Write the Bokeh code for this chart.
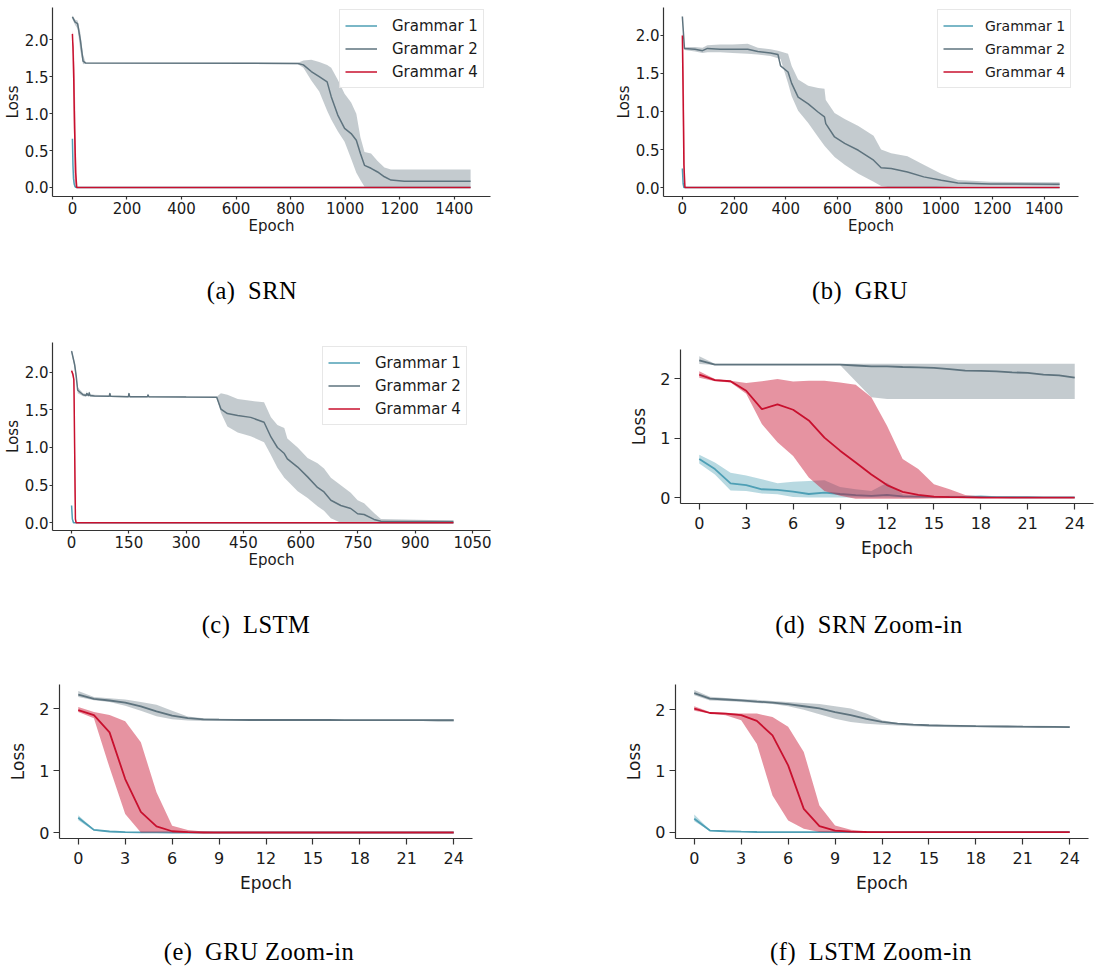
from bokeh.plotting import figure
from bokeh.layouts import column, row
from bokeh.models import (Range1d, FixedTicker, PrintfTickFormatter, Legend,
                          LegendItem, Div)
from bokeh.embed import file_html
from bokeh.resources import INLINE

C1, C2, C4 = "#4e9fb5", "#5e737e", "#c8102e"
LABELS = ["Grammar 1", "Grammar 2", "Grammar 4"]

# ---------------- (a) SRN ----------------
a_g1_epochs = [0, 2, 4, 7, 10, 15, 1460]
a_g1_mean = [0.66, 0.30, 0.12, 0.04, 0.01, 0.0, 0.0]
a_g1_upper = [0.70, 0.36, 0.16, 0.06, 0.02, 0.0, 0.0]
a_g1_lower = [0.58, 0.24, 0.08, 0.02, 0.0, 0.0, 0.0]

a_g2_epochs = [0, 10, 19, 29, 39, 49, 827, 847, 876, 905, 934, 949, 973, 998,
               1022, 1041, 1056, 1071, 1095, 1119, 1144, 1168, 1217, 1460]
a_g2_mean = [2.31, 2.24, 2.22, 2.00, 1.71, 1.685, 1.68, 1.66, 1.57, 1.50, 1.43, 1.23,
             0.98, 0.80, 0.73, 0.64, 0.46, 0.30, 0.26, 0.21, 0.145, 0.10, 0.085, 0.085]
a_g2_upper = [2.33, 2.27, 2.26, 2.10, 1.80, 1.69, 1.69, 1.72, 1.73, 1.70, 1.66, 1.62,
              1.46, 1.27, 1.15, 1.00, 0.68, 0.48, 0.46, 0.36, 0.27, 0.245, 0.245, 0.245]
a_g2_lower = [2.28, 2.20, 2.15, 1.85, 1.67, 1.68, 1.67, 1.62, 1.45, 1.30, 1.04, 0.92,
              0.76, 0.62, 0.39, 0.20, 0.10, 0.01, 0.005, 0.005, 0.005, 0.005, 0.005, 0.005]

a_g4_epochs = [0, 2, 5, 8, 12, 16, 1460]
a_g4_mean = [2.08, 1.90, 1.45, 0.80, 0.20, 0.0, 0.0]
a_g4_upper = [2.13, 1.98, 1.90, 1.60, 0.70, 0.0, 0.0]
a_g4_lower = [2.02, 1.80, 0.90, 0.10, 0.0, 0.0, 0.0]

# ---------------- (b) GRU ----------------
b_g1_epochs = [0, 3, 6, 1460]
b_g1_mean = [0.25, 0.05, 0.0, 0.0]
b_g1_upper = [0.27, 0.07, 0.0, 0.0]
b_g1_lower = [0.20, 0.03, 0.0, 0.0]

b_g2_epochs = [0, 8, 49, 78, 97, 146, 195, 253, 292, 341, 370, 380, 409, 423, 448,
               487, 526, 550, 555, 589, 628, 681, 740, 769, 808, 871, 934, 1002, 1066,
               1192, 1460]
b_g2_mean = [2.25, 1.83, 1.82, 1.80, 1.83, 1.82, 1.82, 1.82, 1.79, 1.77, 1.75, 1.60,
             1.52, 1.37, 1.19, 1.10, 0.99, 0.93, 0.84, 0.665, 0.58, 0.49, 0.36, 0.26,
             0.25, 0.205, 0.14, 0.096, 0.06, 0.048, 0.044]
b_g2_upper = [2.27, 1.85, 1.85, 1.84, 1.87, 1.88, 1.88, 1.89, 1.84, 1.82, 1.80, 1.79,
              1.76, 1.60, 1.42, 1.34, 1.31, 1.30, 1.15, 0.98, 0.90, 0.81, 0.68, 0.50,
              0.45, 0.41, 0.30, 0.18, 0.10, 0.075, 0.07]
b_g2_lower = [2.22, 1.81, 1.79, 1.77, 1.78, 1.78, 1.77, 1.76, 1.75, 1.73, 1.70, 1.69,
              1.37, 1.20, 1.01, 0.85, 0.66, 0.55, 0.53, 0.40, 0.30, 0.18, 0.075, 0.02,
              0.0, 0.0, 0.0, 0.01, 0.02, 0.025, 0.02]

b_g4_epochs = [0, 3, 6, 10, 1460]
b_g4_mean = [2.00, 1.20, 0.30, 0.0, 0.0]
b_g4_upper = [2.03, 1.90, 1.40, 0.0, 0.0]
b_g4_lower = [1.95, 0.50, 0.0, 0.0, 0.0]

# ---------------- (c) LSTM ----------------
c_g1_epochs = [0, 2, 5, 1000]
c_g1_mean = [0.23, 0.05, 0.0, 0.0]
c_g1_upper = [0.25, 0.07, 0.0, 0.0]
c_g1_lower = [0.20, 0.03, 0.0, 0.0]

c_g2_epochs = [0, 8, 12, 16, 30, 38, 40, 42, 45, 46, 48, 60, 99, 100, 102, 149, 150,
               152, 199, 200, 202, 300, 380, 391, 408, 435, 469, 504, 522, 539, 557,
               565, 592, 618, 644, 661, 679, 705, 731, 749, 766, 792, 810, 1000]
c_g2_mean = [2.28, 2.10, 1.95, 1.76, 1.70, 1.69, 1.72, 1.70, 1.69, 1.73, 1.69, 1.685,
             1.68, 1.72, 1.68, 1.675, 1.72, 1.675, 1.675, 1.70, 1.675, 1.67, 1.668,
             1.51, 1.45, 1.425, 1.40, 1.335, 1.14, 1.00, 0.92, 0.85, 0.74, 0.61, 0.47,
             0.41, 0.30, 0.23, 0.19, 0.12, 0.11, 0.045, 0.022, 0.018]
c_g2_upper = [2.30, 2.14, 2.00, 1.80, 1.72, 1.71, 1.75, 1.71, 1.71, 1.75, 1.71, 1.70,
              1.69, 1.74, 1.69, 1.685, 1.74, 1.685, 1.685, 1.72, 1.685, 1.68, 1.675,
              1.72, 1.70, 1.645, 1.62, 1.60, 1.40, 1.30, 1.26, 1.12, 1.00, 0.86, 0.79,
              0.72, 0.60, 0.50, 0.40, 0.30, 0.26, 0.13, 0.05, 0.03]
c_g2_lower = [2.25, 2.05, 1.90, 1.72, 1.68, 1.675, 1.69, 1.68, 1.675, 1.70, 1.675,
              1.675, 1.67, 1.70, 1.67, 1.665, 1.70, 1.665, 1.665, 1.68, 1.665, 1.66,
              1.66, 1.46, 1.28, 1.20, 1.15, 1.07, 0.90, 0.73, 0.60, 0.56, 0.42, 0.33,
              0.22, 0.16, 0.06, 0.0, 0.0, 0.0, 0.0, 0.0, 0.005, 0.005]

c_g4_epochs = [0, 3, 6, 8, 10, 12, 1000]
c_g4_mean = [2.02, 1.98, 1.90, 1.00, 0.05, 0.0, 0.0]
c_g4_upper = [2.04, 2.00, 1.95, 1.60, 0.30, 0.0, 0.0]
c_g4_lower = [1.99, 1.95, 1.80, 0.40, 0.0, 0.0, 0.0]

# ---------------- zoom-in panels (epochs 0..24) ----------------
zoom_epochs = [0, 1, 2, 3, 4, 5, 6, 7, 8, 9, 10, 11, 12, 13, 14, 15, 16, 17, 18, 19,
               20, 21, 22, 23, 24]

# (d) SRN zoom-in
d_g1_mean = [0.65, 0.48, 0.24, 0.21, 0.14, 0.13, 0.10, 0.06, 0.085, 0.06, 0.04, 0.03,
             0.045, 0.02, 0.015, 0.01, 0.01, 0.01, 0.012, 0.008, 0.005, 0.005, 0.004,
             0.003, 0.003]
d_g1_upper = [0.72, 0.59, 0.42, 0.37, 0.31, 0.24, 0.265, 0.28, 0.29, 0.18, 0.14, 0.11,
              0.25, 0.056, 0.03, 0.02, 0.03, 0.025, 0.045, 0.02, 0.012, 0.01, 0.008,
              0.006, 0.006]
d_g1_lower = [0.575, 0.39, 0.12, 0.11, 0.068, 0.056, 0.01, 0.0, 0.0, 0.0, 0.0, 0.0, 0.0,
              0.0, 0.0, 0.0, 0.0, 0.0, 0.0, 0.0, 0.0, 0.0, 0.0, 0.0, 0.0]
d_g2_mean = [2.31, 2.24, 2.24, 2.24, 2.24, 2.24, 2.24, 2.24, 2.24, 2.24, 2.225, 2.21,
             2.21, 2.20, 2.195, 2.185, 2.165, 2.14, 2.135, 2.125, 2.11, 2.10, 2.07,
             2.06, 2.02]
d_g2_upper = [2.38, 2.255, 2.255, 2.255, 2.255, 2.255, 2.255, 2.255, 2.255, 2.255,
              2.255, 2.255, 2.255, 2.255, 2.255, 2.255, 2.255, 2.255, 2.255, 2.255,
              2.255, 2.255, 2.255, 2.255, 2.255]
d_g2_lower = [2.25, 2.235, 2.235, 2.235, 2.235, 2.235, 2.235, 2.235, 2.235, 2.235,
              1.96, 1.69, 1.66, 1.66, 1.66, 1.66, 1.66, 1.66, 1.66, 1.66, 1.66, 1.66,
              1.66, 1.66, 1.66]
d_g4_mean = [2.07, 1.98, 1.96, 1.80, 1.49, 1.57, 1.48, 1.30, 1.01, 0.79, 0.59, 0.39,
             0.21, 0.096, 0.045, 0.017, 0.008, 0.002, 0.0, 0.0, 0.0, 0.0, 0.0, 0.0, 0.0]
d_g4_upper = [2.13, 2.00, 1.97, 1.93, 1.96, 2.00, 1.955, 1.97, 1.97, 1.94, 1.90, 1.69,
              1.21, 0.65, 0.48, 0.225, 0.14, 0.045, 0.017, 0.005, 0.002, 0.0, 0.0, 0.0,
              0.0]
d_g4_lower = [2.02, 1.96, 1.94, 1.75, 1.24, 0.93, 0.70, 0.34, 0.11, 0.03, -0.02, -0.02,
              -0.02, -0.02, -0.02, -0.015, -0.01, -0.005, 0.0, 0.0, 0.0, 0.0, 0.0, 0.0,
              0.0]

# (e) GRU zoom-in
e_g1_mean = [0.24, 0.043, 0.016, 0.005, 0.002, 0.001, 0.0, 0.0, 0.0, 0.0, 0.0, 0.0, 0.0,
             0.0, 0.0, 0.0, 0.0, 0.0, 0.0, 0.0, 0.0, 0.0, 0.0, 0.0, 0.0]
e_g1_upper = [0.28, 0.054, 0.022, 0.008, 0.003, 0.002, 0.001, 0.0, 0.0, 0.0, 0.0, 0.0,
              0.0, 0.0, 0.0, 0.0, 0.0, 0.0, 0.0, 0.0, 0.0, 0.0, 0.0, 0.0, 0.0]
e_g1_lower = [0.20, 0.03, 0.01, 0.002, 0.0, 0.0, 0.0, 0.0, 0.0, 0.0, 0.0, 0.0, 0.0, 0.0,
              0.0, 0.0, 0.0, 0.0, 0.0, 0.0, 0.0, 0.0, 0.0, 0.0, 0.0]
e_g2_mean = [2.23, 2.16, 2.135, 2.10, 2.04, 1.96, 1.89, 1.85, 1.83, 1.825, 1.822, 1.82,
             1.82, 1.82, 1.82, 1.82, 1.82, 1.819, 1.818, 1.818, 1.818, 1.817, 1.817,
             1.816, 1.816]
e_g2_upper = [2.29, 2.19, 2.17, 2.15, 2.11, 2.065, 1.97, 1.875, 1.85, 1.84, 1.835,
              1.832, 1.83, 1.83, 1.83, 1.83, 1.83, 1.829, 1.828, 1.828, 1.828, 1.827,
              1.827, 1.826, 1.826]
e_g2_lower = [2.19, 2.14, 2.11, 2.05, 1.97, 1.88, 1.83, 1.81, 1.805, 1.805, 1.805,
              1.805, 1.805, 1.805, 1.805, 1.805, 1.805, 1.804, 1.803, 1.803, 1.803,
              1.802, 1.802, 1.801, 1.801]
e_g4_mean = [1.98, 1.90, 1.62, 0.865, 0.335, 0.10, 0.02, 0.005, 0.0, 0.0, 0.0, 0.0, 0.0,
             0.0, 0.0, 0.0, 0.0, 0.0, 0.0, 0.0, 0.0, 0.0, 0.0, 0.0, 0.0]
e_g4_upper = [2.03, 1.95, 1.90, 1.80, 1.46, 0.65, 0.11, 0.04, 0.016, 0.005, 0.0, 0.0,
              0.0, 0.0, 0.0, 0.0, 0.0, 0.0, 0.0, 0.0, 0.0, 0.0, 0.0, 0.0, 0.0]
e_g4_lower = [1.95, 1.85, 1.05, 0.30, 0.0, 0.0, 0.0, 0.0, 0.0, 0.0, 0.0, 0.0, 0.0, 0.0,
              0.0, 0.0, 0.0, 0.0, 0.0, 0.0, 0.0, 0.0, 0.0, 0.0, 0.0]

# (f) LSTM zoom-in
f_g1_mean = [0.22, 0.027, 0.015, 0.008, 0.003, 0.001, 0.0, 0.0, 0.0, 0.0, 0.0, 0.0,
             0.0, 0.0, 0.0, 0.0, 0.0, 0.0, 0.0, 0.0, 0.0, 0.0, 0.0, 0.0, 0.0]
f_g1_upper = [0.29, 0.035, 0.02, 0.01, 0.004, 0.002, 0.0, 0.0, 0.0, 0.0, 0.0, 0.0, 0.0,
              0.0, 0.0, 0.0, 0.0, 0.0, 0.0, 0.0, 0.0, 0.0, 0.0, 0.0, 0.0]
f_g1_lower = [0.18, 0.02, 0.01, 0.005, 0.002, 0.0, 0.0, 0.0, 0.0, 0.0, 0.0, 0.0, 0.0,
              0.0, 0.0, 0.0, 0.0, 0.0, 0.0, 0.0, 0.0, 0.0, 0.0, 0.0, 0.0]
f_g2_mean = [2.27, 2.18, 2.165, 2.15, 2.13, 2.115, 2.09, 2.055, 2.02, 1.96, 1.91, 1.85,
             1.80, 1.77, 1.755, 1.745, 1.74, 1.735, 1.73, 1.728, 1.725, 1.722, 1.72,
             1.718, 1.715]
f_g2_upper = [2.32, 2.21, 2.19, 2.175, 2.16, 2.14, 2.125, 2.11, 2.09, 2.055, 2.02, 1.935,
              1.825, 1.78, 1.76, 1.75, 1.748, 1.745, 1.742, 1.74, 1.738, 1.736, 1.735,
              1.734, 1.733]
f_g2_lower = [2.235, 2.15, 2.14, 2.125, 2.11, 2.09, 2.055, 2.0, 1.925, 1.85, 1.80, 1.77,
              1.755, 1.74, 1.727, 1.72, 1.717, 1.714, 1.712, 1.71, 1.708, 1.706, 1.704,
              1.702, 1.70]
f_g4_mean = [2.015, 1.945, 1.935, 1.91, 1.815, 1.58, 1.09, 0.38, 0.098, 0.027, 0.01,
             0.003, 0.0, 0.0, 0.0, 0.0, 0.0, 0.0, 0.0, 0.0, 0.0, 0.0, 0.0, 0.0, 0.0]
f_g4_upper = [2.055, 1.96, 1.95, 1.935, 1.935, 1.88, 1.72, 1.31, 0.436, 0.11, 0.04,
              0.015, 0.005, 0.0, 0.0, 0.0, 0.0, 0.0, 0.0, 0.0, 0.0, 0.0, 0.0, 0.0, 0.0]
f_g4_lower = [1.98, 1.935, 1.91, 1.825, 1.44, 0.60, 0.19, 0.055, 0.005, 0.0, 0.0, 0.0,
              0.0, 0.0, 0.0, 0.0, 0.0, 0.0, 0.0, 0.0, 0.0, 0.0, 0.0, 0.0, 0.0]

long_y_ticks = [0.0, 0.5, 1.0, 1.5, 2.0]
zoom_y_ticks = [0, 1, 2]
ab_x_ticks = [0, 200, 400, 600, 800, 1000, 1200, 1400]
c_x_ticks = [0, 150, 300, 450, 600, 750, 900, 1050]
zoom_x_ticks = [0, 3, 6, 9, 12, 15, 18, 21, 24]

captions = [("(a)", "SRN"), ("(b)", "GRU"), ("(c)", "LSTM"),
            ("(d)", "SRN Zoom-in"), ("(e)", "GRU Zoom-in"), ("(f)", "LSTM Zoom-in")]

BAND_ALPHA = {C1: 0.40, C2: 0.37, C4: 0.45}
AX_COLOR = "#333333"
TXT_COLOR = "#1a1a1a"


def make_panel(series, xr, yr, xticks, yticks, yfmt, geom, small, legend_loc=None,
               legend_font="15px", legend_glyph=32, legend_standoff=15):
    fl, fw, fr, ft, fh, fb = geom
    p = figure(frame_width=fw, frame_height=fh, min_border_left=fl,
               min_border_right=fr, min_border_top=ft, min_border_bottom=fb,
               x_range=Range1d(*xr), y_range=Range1d(*yr),
               output_backend="svg", toolbar_location=None, tools="")
    p.outline_line_color = None
    p.grid.visible = False
    p.background_fill_color = "white"
    p.border_fill_color = "white"

    lw = 1.5 if small else 1.8
    items = []
    for label, color, xs, m, up, lo in series:
        p.varea(x=xs, y1=lo, y2=up, fill_color=color, fill_alpha=BAND_ALPHA[color])
        r = p.line(x=xs, y=m, line_color=color, line_width=lw)
        items.append(LegendItem(label=label, renderers=[r]))

    tick_fs = "15px" if small else "16px"
    lab_fs = "15px" if small else "17px"
    for ax in (p.xaxis[0], p.yaxis[0]):
        ax.axis_line_color = AX_COLOR
        ax.axis_line_width = 1.2
        ax.major_tick_line_color = AX_COLOR
        ax.major_tick_line_width = 1.2
        ax.major_tick_in = 0
        ax.major_tick_out = 3 if small else 6
        ax.minor_tick_line_color = None
        ax.major_label_text_font = "DejaVu Sans"
        ax.major_label_text_font_size = tick_fs
        ax.major_label_text_color = TXT_COLOR
        ax.axis_label_text_font = "DejaVu Sans"
        ax.axis_label_text_font_size = lab_fs
        ax.axis_label_text_font_style = "normal"
        ax.axis_label_text_color = TXT_COLOR
    p.xaxis.ticker = FixedTicker(ticks=xticks)
    p.yaxis.ticker = FixedTicker(ticks=yticks)
    if yfmt:
        p.yaxis.formatter = PrintfTickFormatter(format=yfmt)
    p.xaxis.axis_label = "Epoch"
    p.yaxis.axis_label = "Loss"
    p.xaxis.major_label_standoff = 2 if small else 7
    p.yaxis.major_label_standoff = 1 if small else 4
    p.xaxis.axis_label_standoff = 0 if small else 6
    p.yaxis.axis_label_standoff = 0 if small else 8

    if legend_loc is not None:
        lg = Legend(items=items, location=legend_loc)
        lg.padding = 5
        lg.spacing = 2
        lg.label_height = 21
        lg.glyph_height = 21
        lg.glyph_width = legend_glyph
        lg.label_standoff = legend_standoff
        lg.label_text_font = "DejaVu Sans"
        lg.label_text_font_size = legend_font
        lg.label_text_color = TXT_COLOR
        lg.border_line_color = "#d0d0d0"
        lg.border_line_width = 1
        lg.background_fill_color = "white"
        lg.background_fill_alpha = 0.85
        p.add_layout(lg)
    return p


def caption_div(cap, width, height, center, line_h):
    tag, name = cap
    box_w = 400
    left = center - box_w // 2
    html = ('<div style="margin:0;padding:0;margin-left:%dpx;width:%dpx;'
            'text-align:center;font-family:\'Liberation Serif\',serif;'
            'font-size:24.5px;letter-spacing:0.5px;line-height:%dpx;color:#000;'
            'white-space:nowrap;">%s<span style="display:inline-block;width:6px">'
            '</span> %s</div>') % (left, box_w, line_h, tag, name)
    return Div(text=html, width=width, height=height, margin=(0, 0, 0, 0))


def series_of(g1, g2, g4):
    return [(LABELS[0], C1) + g1, (LABELS[1], C2) + g2, (LABELS[2], C4) + g4]


pa = make_panel(series_of((a_g1_epochs, a_g1_mean, a_g1_upper, a_g1_lower),
                          (a_g2_epochs, a_g2_mean, a_g2_upper, a_g2_lower),
                          (a_g4_epochs, a_g4_mean, a_g4_upper, a_g4_lower)),
                (-73, 1533), (-0.122, 2.437), ab_x_ticks, long_y_ticks, "%.1f",
                (47, 438, 70, 7, 189, 80), True, (287, 108))
pb = make_panel(series_of((b_g1_epochs, b_g1_mean, b_g1_upper, b_g1_lower),
                          (b_g2_epochs, b_g2_mean, b_g2_upper, b_g2_lower),
                          (b_g4_epochs, b_g4_mean, b_g4_upper, b_g4_lower)),
                (-73, 1533), (-0.118, 2.368), ab_x_ticks, long_y_ticks, "%.1f",
                (103, 415, 17, 7, 189, 80), True, (274, 108),
                legend_font="14px", legend_glyph=30, legend_standoff=12)
pc = make_panel(series_of((c_g1_epochs, c_g1_mean, c_g1_upper, c_g1_lower),
                          (c_g2_epochs, c_g2_mean, c_g2_upper, c_g2_lower),
                          (c_g4_epochs, c_g4_mean, c_g4_upper, c_g4_lower)),
                (-50, 1097), (-0.102, 2.394), c_x_ticks, long_y_ticks, "%.1f",
                (47, 438, 70, 12, 188, 80), True, (270, 105))
pd_ = make_panel(series_of((zoom_epochs, d_g1_mean, d_g1_upper, d_g1_lower),
                           (zoom_epochs, d_g2_mean, d_g2_upper, d_g2_lower),
                           (zoom_epochs, d_g4_mean, d_g4_upper, d_g4_lower)),
                 (-1.2, 25.2), (-0.10, 2.495), zoom_x_ticks, zoom_y_ticks, None,
                 (120, 413, 2, 19, 154, 107), False)
pe = make_panel(series_of((zoom_epochs, e_g1_mean, e_g1_upper, e_g1_lower),
                          (zoom_epochs, e_g2_mean, e_g2_upper, e_g2_lower),
                          (zoom_epochs, e_g4_mean, e_g4_upper, e_g4_lower)),
                (-1.2, 25.2), (-0.097, 2.394), zoom_x_ticks, zoom_y_ticks, None,
                (59, 413, 83, 14, 154, 103), False)
pf = make_panel(series_of((zoom_epochs, f_g1_mean, f_g1_upper, f_g1_lower),
                          (zoom_epochs, f_g2_mean, f_g2_upper, f_g2_lower),
                          (zoom_epochs, f_g4_mean, f_g4_upper, f_g4_lower)),
                (-1.2, 25.2), (-0.103, 2.41), zoom_x_ticks, zoom_y_ticks, None,
                (120, 413, 2, 14, 154, 103), False)

# caption centres are relative to each cell's left edge
ca = caption_div(captions[0], 555, 54, 252, 30)
cb = caption_div(captions[1], 535, 54, 300, 30)
cc = caption_div(captions[2], 555, 60, 256, 30)
cd = caption_div(captions[3], 535, 60, 309, 30)
ce = caption_div(captions[4], 555, 23, 259, 21)
cf = caption_div(captions[5], 535, 23, 316, 21)

layout = column(row(column(pa, ca), column(pb, cb)),
                row(column(pc, cc), column(pd_, cd)),
                row(column(pe, ce), column(pf, cf)))
open("out.html", "w").write(file_html(layout, INLINE))
